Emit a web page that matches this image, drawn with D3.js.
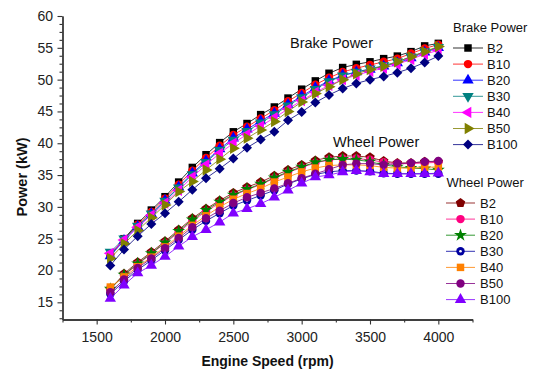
<!DOCTYPE html>
<html>
<head>
<meta charset="utf-8">
<script src="https://cdn.jsdelivr.net/npm/d3@7"></script>
<style>
  body { margin: 0; background: #fff; }
  svg { font-family: "Liberation Sans", Arial, sans-serif; }
</style>
</head>
<body>
<svg width="535" height="369"></svg>
<script>
// engine speed (rpm)
const speed = [1600, 1700, 1800, 1900, 2000, 2100, 2200, 2300, 2400, 2500, 2600, 2700, 2800,
  2900, 3000, 3100, 3200, 3300, 3400, 3500, 3600, 3700, 3800, 3900, 4000];

// brake power (kW)
const brakeB2   = [22.4, 25.0, 27.4, 29.5, 31.6, 33.9, 36.2, 38.2, 40.1, 41.8, 43.1, 44.5, 45.7, 47.1, 48.5, 49.8, 51.0, 51.9, 52.4, 52.8, 53.3, 53.7, 54.4, 55.3, 55.7];
const brakeB10  = [22.5, 24.9, 27.2, 29.2, 31.3, 33.5, 35.7, 37.7, 39.6, 41.3, 42.6, 43.9, 45.2, 46.6, 47.9, 49.2, 50.3, 51.2, 51.8, 52.3, 52.8, 53.3, 54.1, 54.9, 55.5];
const brakeB20  = [22.3, 24.7, 26.9, 28.9, 31.0, 33.1, 35.3, 37.2, 39.1, 40.8, 42.2, 43.5, 44.7, 46.1, 47.4, 48.7, 49.8, 50.7, 51.2, 51.6, 52.1, 52.6, 53.4, 54.3, 55.0];
const brakeB30  = [22.9, 25.0, 27.0, 28.9, 30.9, 33.0, 35.1, 37.0, 38.9, 40.5, 41.9, 43.2, 44.5, 45.9, 47.2, 48.5, 49.7, 50.6, 51.2, 51.7, 52.2, 52.8, 53.6, 54.4, 55.1];
const brakeB40  = [22.7, 24.8, 26.8, 28.7, 30.6, 32.6, 34.7, 36.6, 38.4, 40.0, 41.4, 42.7, 44.0, 45.4, 46.7, 48.0, 49.1, 50.0, 50.7, 51.3, 51.8, 52.4, 53.2, 54.0, 54.6];
const brakeB50  = [21.9, 24.2, 26.3, 28.3, 30.3, 32.4, 34.0, 35.8, 37.5, 39.2, 40.8, 42.1, 43.4, 45.0, 46.5, 47.8, 48.9, 50.0, 50.9, 51.6, 52.1, 52.8, 53.6, 54.4, 55.2];
const brakeB100 = [20.8, 23.3, 25.4, 27.3, 29.0, 30.8, 32.7, 34.5, 36.0, 37.6, 39.3, 40.6, 41.8, 43.6, 44.9, 46.4, 47.6, 48.6, 49.4, 50.0, 50.5, 51.1, 51.8, 52.7, 53.7];

// wheel power (kW)
const wheelB2   = [17.0, 19.5, 21.3, 22.9, 24.6, 26.4, 28.2, 29.7, 31.0, 32.2, 33.1, 33.9, 34.9, 35.8, 36.6, 37.3, 37.8, 38.0, 38.0, 37.8, 37.2, 36.9, 36.9, 37.1, 37.1];
const wheelB10  = [17.2, 19.2, 21.0, 22.6, 24.3, 26.0, 27.8, 29.3, 30.6, 31.8, 32.7, 33.5, 34.5, 35.4, 36.2, 36.9, 37.4, 37.6, 37.6, 37.4, 37.0, 36.8, 36.8, 36.9, 37.0];
const wheelB20  = [17.1, 19.3, 21.1, 22.7, 24.4, 26.2, 28.0, 29.5, 30.8, 31.9, 32.8, 33.6, 34.6, 35.5, 36.3, 37.0, 37.4, 37.5, 37.4, 37.1, 36.6, 36.3, 36.1, 36.0, 35.8];
const wheelB30  = [16.3, 18.3, 20.1, 21.6, 23.2, 24.8, 26.4, 27.8, 29.0, 30.2, 31.0, 31.8, 32.6, 33.6, 34.4, 35.1, 35.5, 35.7, 35.7, 35.6, 35.3, 35.2, 35.2, 35.2, 35.2];
const wheelB40  = [17.4, 19.0, 20.6, 22.1, 23.7, 25.4, 27.1, 28.6, 30.0, 31.2, 32.1, 32.9, 33.9, 34.7, 35.5, 36.1, 36.5, 36.6, 36.6, 36.5, 36.2, 36.1, 36.1, 36.2, 36.3];
const wheelB50  = [16.6, 18.6, 20.4, 21.9, 23.5, 25.1, 26.8, 28.2, 29.4, 30.6, 31.5, 32.2, 32.9, 33.7, 34.5, 35.2, 35.9, 36.6, 36.8, 36.8, 36.6, 36.8, 36.9, 37.1, 37.2];
const wheelB100 = [15.6, 17.7, 19.6, 20.8, 22.2, 23.8, 25.3, 26.4, 27.6, 29.0, 29.7, 30.5, 31.5, 32.6, 33.7, 34.7, 35.0, 35.5, 35.7, 35.5, 35.2, 35.2, 35.2, 35.2, 35.3];

const xTicks = [1500, 2000, 2500, 3000, 3500, 4000];
const yTicks = [15, 20, 25, 30, 35, 40, 45, 50, 55, 60];

const brakeSeries = [
  {name: "B2",   values: brakeB2,   color: "#000000", shape: "square"},
  {name: "B10",  values: brakeB10,  color: "#ff0000", shape: "circle"},
  {name: "B20",  values: brakeB20,  color: "#0000ff", shape: "triUp"},
  {name: "B30",  values: brakeB30,  color: "#008080", shape: "triDown"},
  {name: "B40",  values: brakeB40,  color: "#ff00ff", shape: "triLeft"},
  {name: "B50",  values: brakeB50,  color: "#808000", shape: "triRight"},
  {name: "B100", values: brakeB100, color: "#000080", shape: "diamond"}
];
const wheelSeries = [
  {name: "B2",   values: wheelB2,   color: "#800000", shape: "pentagon"},
  {name: "B10",  values: wheelB10,  color: "#ff0080", shape: "circle"},
  {name: "B20",  values: wheelB20,  color: "#008000", shape: "star"},
  {name: "B30",  values: wheelB30,  color: "#0000a0", shape: "dotCircle"},
  {name: "B40",  values: wheelB40,  color: "#ff8000", shape: "square"},
  {name: "B50",  values: wheelB50,  color: "#800080", shape: "circle"},
  {name: "B100", values: wheelB100, color: "#8000ff", shape: "triUp"}
];

const svg = d3.select("svg");
const x = d3.scaleLinear().domain([1250, 4250]).range([62.5, 472.5]);
const y = d3.scaleLinear().domain([12.3, 60]).range([319.5, 16]);

// axes
const xAxis = d3.axisBottom(x).tickValues(xTicks).tickSize(5).tickSizeOuter(0).tickFormat(d3.format("d"));
const xMinor = d3.axisBottom(x).tickValues([1250, 1750, 2250, 2750, 3250, 3750, 4250]).tickSize(3).tickSizeOuter(0).tickFormat("");
const yAxis = d3.axisLeft(y).tickValues(yTicks).tickSize(5).tickSizeOuter(0);
const yMinorVals = [];
yTicks.forEach(t => { [1.25, 2.5, 3.75].forEach(o => { if (t - o > 12.3) yMinorVals.push(t - o); }); });
const yMinor = d3.axisLeft(y).tickValues(yMinorVals).tickSize(3).tickSizeOuter(0).tickFormat("");

function styleAxis(g) {
  g.select(".domain").attr("stroke", "#333").attr("stroke-width", 1.3);
  g.selectAll(".tick line").attr("stroke", "#333").attr("stroke-width", 1.1);
  g.selectAll(".tick text").attr("fill", "#222").style("font-size", "14px")
    .style("font-family", "'Liberation Sans', Arial, sans-serif");
}
svg.append("g").attr("transform", "translate(0,319.5)").call(xMinor).call(styleAxis);
svg.append("g").attr("transform", "translate(0,319.5)").call(xAxis).call(styleAxis)
  .selectAll(".tick text").attr("dy", "1.05em");
svg.append("g").attr("transform", "translate(62.5,0)").call(yMinor).call(styleAxis);
svg.append("g").attr("transform", "translate(62.5,0)").call(yAxis).call(styleAxis)
  .selectAll(".tick text").attr("dx", "-0.1em");

svg.append("text").attr("x", 267.5).attr("y", 366).attr("text-anchor", "middle")
  .style("font-size", "14px").style("font-weight", "bold").attr("fill", "#111")
  .text("Engine Speed (rpm)");
svg.append("text").attr("transform", "translate(27,177) rotate(-90)").attr("text-anchor", "middle")
  .style("font-size", "14.5px").style("font-weight", "bold").attr("fill", "#111")
  .text("Power (kW)");

// markers
function pentagonPath(r) {
  const p = d3.path();
  for (let i = 0; i < 5; i++) {
    const a = -Math.PI / 2 + i * 2 * Math.PI / 5;
    if (i === 0) p.moveTo(r * Math.cos(a), r * Math.sin(a));
    else p.lineTo(r * Math.cos(a), r * Math.sin(a));
  }
  p.closePath();
  return p.toString();
}
function drawMarker(g, shape, color) {
  const sz = 56;
  if (shape === "pentagon") {
    g.append("path").attr("d", pentagonPath(5)).attr("fill", color);
    return;
  }
  if (shape === "dotCircle") {
    g.append("path").attr("d", d3.symbol(d3.symbolCircle, sz)()).attr("fill", color);
    g.append("circle").attr("r", 1.3).attr("fill", "#fff");
    return;
  }
  const map = {
    square: [d3.symbolSquare, 0], circle: [d3.symbolCircle, 0], diamond: [d3.symbolSquare, 45],
    star: [d3.symbolStar, 0], triUp: [d3.symbolTriangle, 0], triDown: [d3.symbolTriangle, 180],
    triLeft: [d3.symbolTriangle, -90], triRight: [d3.symbolTriangle, 90]
  };
  const [type, rot] = map[shape];
  const s = shape === "diamond" ? 50 : (shape === "star" ? 52 : sz);
  g.append("path").attr("d", d3.symbol(type, s)()).attr("transform", "rotate(" + rot + ")").attr("fill", color);
}

const line = d3.line().x((d, i) => x(speed[i])).y(d => y(d));
const plot = svg.append("g");
function drawSeries(s) {
  plot.append("path").datum(s.values).attr("d", line).attr("fill", "none")
    .attr("stroke", s.color).attr("stroke-width", 1).attr("stroke-opacity", 0.8);
  plot.selectAll(null).data(s.values).join("g")
    .attr("transform", (d, i) => "translate(" + x(speed[i]) + "," + y(d) + ")")
    .each(function() { drawMarker(d3.select(this), s.shape, s.color); });
}
wheelSeries.forEach(drawSeries);
brakeSeries.forEach(drawSeries);

// annotations
svg.append("text").attr("x", 290).attr("y", 47.5).style("font-size", "14.5px").attr("fill", "#111").text("Brake Power");
svg.append("text").attr("x", 333).attr("y", 146.5).style("font-size", "14.5px").attr("fill", "#111").text("Wheel Power");

// legends
function legend(title, series, x0, y0, lineX1, lineX2, textX) {
  const g = svg.append("g");
  g.append("text").attr("x", x0).attr("y", y0).style("font-size", "13px").attr("fill", "#111").text(title);
  series.forEach((s, i) => {
    const yy = y0 + 16.5 + i * 16.1;
    g.append("line").attr("x1", lineX1).attr("x2", lineX2).attr("y1", yy).attr("y2", yy)
      .attr("stroke", s.color).attr("stroke-width", 1).attr("stroke-opacity", 0.8);
    const m = g.append("g").attr("transform", "translate(" + ((lineX1 + lineX2) / 2) + "," + yy + ")");
    drawMarker(m, s.shape, s.color);
    g.append("text").attr("x", textX).attr("y", yy + 4.7).style("font-size", "13px").attr("fill", "#111").text(s.name);
  });
}
legend("Brake Power", brakeSeries, 453, 31.5, 453, 483, 487);
legend("Wheel Power", wheelSeries, 446.5, 186.5, 446, 475, 480);
</script>
</body>
</html>
